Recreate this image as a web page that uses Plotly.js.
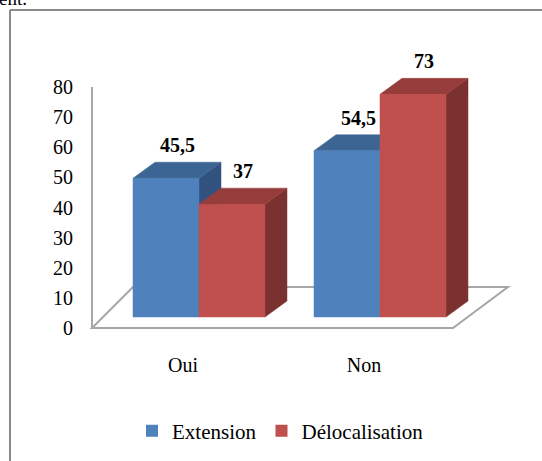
<!DOCTYPE html>
<html><head><meta charset="utf-8">
<script src="https://cdn.plot.ly/plotly-3.0.1.min.js"></script>
<style>html,body{margin:0;padding:0;background:#fff}#chart{width:542px;height:461px}</style>
</head><body><div id="chart"></div>
<script>
// ---- data ----
const categories = ['Oui', 'Non'];
const seriesNames = ['Extension', 'Délocalisation'];
const extension = [45.5, 54.5];
const delocalisation = [37, 73];
const yTicks = [0, 10, 20, 30, 40, 50, 60, 70, 80];

// ---- geometry / style ----
const W = 0.3646, DX = 0.1215, DY = 5.25;
const fronts = ['#4F81BD', '#C0504D'];
const tops = ['#3D6593', '#963D3B'];
const sides = ['#31527F', '#7B3130'];
const seriesVals = [extension, delocalisation];
const fmt = v => String(v).replace('.', ',');

const traces = [];
seriesVals.forEach((vals, s) => {
  traces.push({
    type: 'bar', x: categories.map((c, i) => i), y: vals, width: W,
    offset: s === 0 ? -W : 0, name: seriesNames[s],
    marker: {color: fronts[s], line: {width: 0}}, hoverinfo: 'skip'
  });
});
categories.forEach((c, i) => {
  seriesVals.forEach((vals, s) => {
    const v = vals[i];
    const x0 = i + (s === 0 ? -W : 0), x1 = x0 + W;
    const faces = [
      {x: [x1, x1 + DX, x1 + DX, x1, x1], y: [0, DY, v + DY, v, 0], c: sides[s]},
      {x: [x0, x1, x1 + DX, x0 + DX, x0], y: [v, v, v + DY, v + DY, v], c: tops[s]},
      {x: [x0, x1, x1, x0, x0], y: [0, 0, v, v, 0], c: fronts[s]}
    ];
    faces.forEach(f => traces.push({
      type: 'scatter', mode: 'lines', x: f.x, y: f.y, fill: 'toself',
      fillcolor: f.c, line: {color: f.c, width: 0.5}, showlegend: false, hoverinfo: 'skip'
    }));
  });
});
// carrier trace for the tick-label axis
traces.push({type: 'scatter', x: [null], y: [null], yaxis: 'y2', showlegend: false, hoverinfo: 'skip'});

const annotations = [];
seriesVals.forEach((vals, s) => vals.forEach((v, i) => {
  annotations.push({
    x: i + (s === 0 ? -W : 0) + W / 2 + DX / 2, y: v + DY, xref: 'x', yref: 'y',
    text: fmt(v), showarrow: false, yanchor: 'middle', yshift: 17,
    font: {size: 20, weight: 'bold', color: '#000'}
  });
}));
annotations.push({
  x: 0, y: 1 - 11 / 461, xref: 'paper', yref: 'paper', xanchor: 'left', yanchor: 'bottom',
  xshift: -3, text: 'ent.', showarrow: false, font: {size: 19, color: '#000'}
});

const gray = '#a6a6a6';
const shapes = [
  {type: 'path', xref: 'x', yref: 'y', layer: 'below',
   path: 'M-0.591,-3.6 L1.403,-3.6 L1.707,9.84 L-0.3646,9.84 Z', line: {color: gray, width: 2}},
  {type: 'line', xref: 'x', yref: 'y', layer: 'below', x0: -0.591, x1: -0.591, y0: -3.6, y1: 75.4,
   line: {color: gray, width: 2}},
  {type: 'line', xref: 'paper', yref: 'paper', layer: 'below', x0: 10 / 542, x1: 10 / 542, y0: 0, y1: 1 - 10 / 461,
   line: {color: '#8a8a8a', width: 2}},
  {type: 'line', xref: 'paper', yref: 'paper', layer: 'below', x0: 10 / 542, x1: 1, y0: 1 - 10 / 461, y1: 1 - 10 / 461,
   line: {color: '#8a8a8a', width: 2}}
];

const layout = {
  width: 542, height: 461, margin: {l: 0, r: 0, t: 0, b: 0},
  paper_bgcolor: '#fff', plot_bgcolor: 'rgba(0,0,0,0)', barmode: 'overlay',
  font: {family: '"Liberation Serif", "Times New Roman", serif', color: '#000'},
  xaxis: {range: [-1.0994, 1.8950], tickvals: [0, 1], ticktext: categories, showgrid: false,
    zeroline: false, showline: false, ticks: '', anchor: 'free', position: 1 - 351 / 461,
    ticklabelshift: -16, tickfont: {size: 20}, fixedrange: true},
  yaxis: {range: [-47.21, 103.93], visible: false, fixedrange: true},
  yaxis2: {range: [-44.15, 108.88], overlaying: 'y', anchor: 'free', position: 73 / 542, side: 'left',
    tickvals: yTicks, showgrid: false, zeroline: false, showline: false, ticks: '',
    tickfont: {size: 20}, fixedrange: true},
  showlegend: true,
  legend: {orientation: 'h', x: 132 / 542, y: 1 - 431 / 461, xanchor: 'left', yanchor: 'middle',
    font: {size: 21}, bgcolor: 'rgba(0,0,0,0)'},
  shapes: shapes, annotations: annotations
};
Plotly.newPlot('chart', traces, layout, {displayModeBar: false, staticPlot: true});
</script></body></html>
